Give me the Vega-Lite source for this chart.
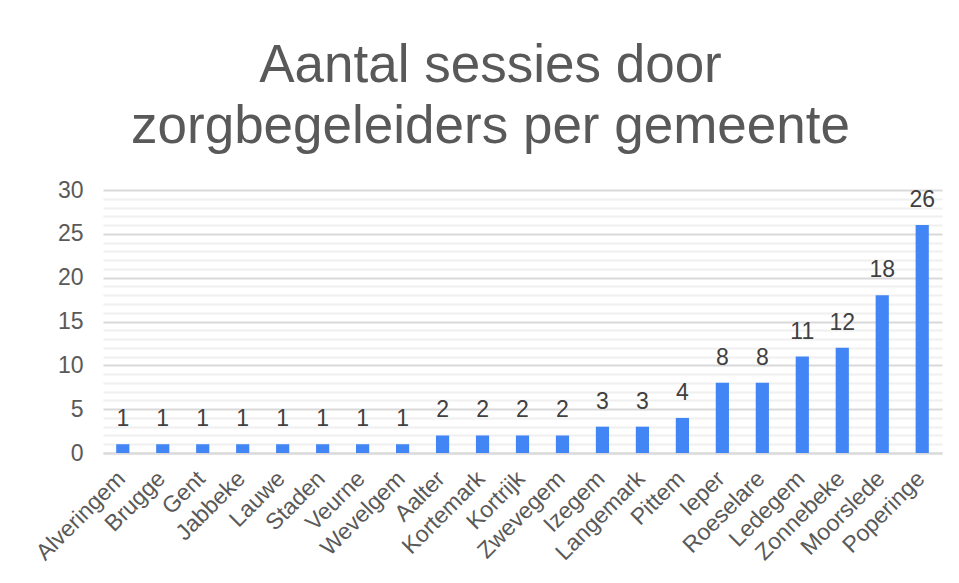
{
  "$schema": "https://vega.github.io/schema/vega-lite/v6.json",
  "autosize": {"type": "none"},
  "width": 839,
  "height": 263,
  "padding": {"left": 103, "top": 190, "right": 17, "bottom": 130},
  "background": "white",
  "title": {
    "text": ["Aantal sessies door", "zorgbegeleiders per gemeente"],
    "font": "Liberation Sans",
    "fontSize": 53,
    "fontWeight": "normal",
    "color": "#595959",
    "lineHeight": 61,
    "anchor": "middle",
    "dx": -32,
    "offset": 25
  },
  "data": {
    "values": [
      {"gemeente": "Alveringem", "sessies": 1},
      {"gemeente": "Brugge", "sessies": 1},
      {"gemeente": "Gent", "sessies": 1},
      {"gemeente": "Jabbeke", "sessies": 1},
      {"gemeente": "Lauwe", "sessies": 1},
      {"gemeente": "Staden", "sessies": 1},
      {"gemeente": "Veurne", "sessies": 1},
      {"gemeente": "Wevelgem", "sessies": 1},
      {"gemeente": "Aalter", "sessies": 2},
      {"gemeente": "Kortemark", "sessies": 2},
      {"gemeente": "Kortrijk", "sessies": 2},
      {"gemeente": "Zwevegem", "sessies": 2},
      {"gemeente": "Izegem", "sessies": 3},
      {"gemeente": "Langemark", "sessies": 3},
      {"gemeente": "Pittem", "sessies": 4},
      {"gemeente": "Ieper", "sessies": 8},
      {"gemeente": "Roeselare", "sessies": 8},
      {"gemeente": "Ledegem", "sessies": 11},
      {"gemeente": "Zonnebeke", "sessies": 12},
      {"gemeente": "Moorslede", "sessies": 18},
      {"gemeente": "Poperinge", "sessies": 26}
    ]
  },
  "encoding": {
    "x": {
      "field": "gemeente",
      "type": "nominal",
      "sort": null,
      "scale": {"paddingInner": 0.67, "paddingOuter": 0.33},
      "axis": {
        "title": null,
        "labelAngle": -45,
        "labelFont": "Liberation Sans",
        "labelFontSize": 23,
        "labelColor": "#595959",
        "labelAlign": "right",
        "labelBaseline": "top",
        "labelPadding": 14,
        "labelOffset": -9,
        "ticks": false,
        "domainColor": "#d9d9d9",
        "domainWidth": 2,
        "grid": false
      }
    },
    "y": {
      "field": "sessies",
      "type": "quantitative",
      "scale": {"domain": [0, 30], "nice": false},
      "axis": {
        "title": null,
        "values": [0,1,2,3,4,5,6,7,8,9,10,11,12,13,14,15,16,17,18,19,20,21,22,23,24,25,26,27,28,29,30],
        "labelExpr": "datum.value % 5 === 0 ? datum.label : ''",
        "labelFont": "Liberation Sans",
        "labelFontSize": 23,
        "labelColor": "#595959",
        "labelPadding": 20,
        "ticks": false,
        "domain": false,
        "grid": true,
        "gridColor": {"condition": {"test": "datum.value % 5 === 0", "value": "#d9d9d9"}, "value": "#f0f0f0"},
        "gridWidth": 2
      }
    }
  },
  "layer": [
    {"mark": {"type": "bar", "color": "#4285f4"}},
    {
      "mark": {"type": "text", "dy": -25, "font": "Liberation Sans", "fontSize": 23, "color": "#404040"},
      "encoding": {"text": {"field": "sessies", "type": "quantitative"}}
    }
  ],
  "config": {"view": {"stroke": null}}
}
